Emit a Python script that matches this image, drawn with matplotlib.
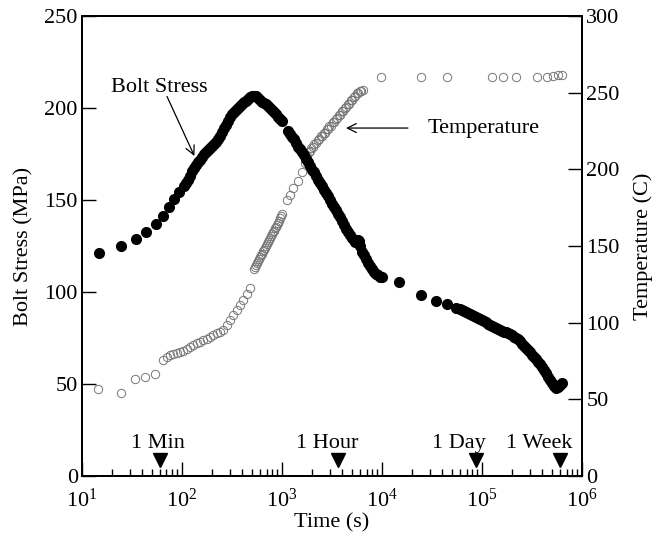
import matplotlib
matplotlib.use("Agg")
import matplotlib.pyplot as plt
import numpy as np
from matplotlib.ticker import LogLocator, FixedLocator, NullFormatter

plt.rcParams['font.family'] = ['Liberation Serif', 'DejaVu Serif']
plt.rcParams['mathtext.fontset'] = 'custom'
plt.rcParams['mathtext.rm'] = 'Liberation Serif'
plt.rcParams['mathtext.it'] = 'Liberation Serif:italic'
plt.rcParams['mathtext.bf'] = 'Liberation Serif:bold'

# ---------------- data ----------------
stress_time = [
    14.8, 24.4, 34.4, 44, 54.5, 65, 73.6, 83.8, 94, 105,
    110, 115, 120, 126, 132, 138, 145, 151, 158, 166, 174, 182, 191, 200,
    209, 219, 229, 240, 251, 263, 275, 288, 302, 316, 331, 347, 363, 380,
    398, 417, 437, 457, 479, 501, 525, 550,
    575, 603, 631, 661, 692, 724, 759, 794, 832, 871, 912, 955, 1000,
    1148, 1202, 1259, 1318, 1380, 1445, 1514, 1585, 1660, 1738, 1820, 1905,
    1995, 2089, 2188, 2291, 2399, 2512, 2630, 2754, 2884, 3020, 3162, 3311,
    3467, 3631, 3802, 3981, 4169, 4365, 4571, 4786, 5012, 5248, 5370, 5623,
    5754, 5888, 6026, 6310, 6607, 6918, 7244, 7586, 7943, 8318, 8710, 9120,
    9550, 10000,
    14700, 24500, 34700, 45000, 55000,
    60260, 63100, 66070, 69180, 72440, 75860, 79430, 83180, 87100, 91200,
    95500, 100000, 104700, 109600, 114800, 120200, 125900, 131800, 138000,
    144500, 151400, 158500, 166000, 173800, 182000, 190500, 199500, 208900,
    218800, 229100, 239900, 251200, 263000, 275400, 288400, 302000, 316200,
    331100, 346700, 363100, 380200, 398100, 416900, 436500, 457100, 478600,
    501200, 524800, 549500, 575400, 602600, 631000,
]
stress_mpa = [
    121, 125.2, 129, 132.8, 137.1, 141.3, 146.2, 150.4, 154.5, 157.6,
    159, 161, 163, 165.5, 167.5, 169, 170.5, 172, 173.5, 175, 176, 177, 178.5, 179.5,
    180.5, 181.5, 183, 185, 187, 189, 191, 193, 195, 196.5, 198, 199, 200, 201,
    202, 203, 204, 205, 205.8, 206.3, 206.5, 206.3,
    205.5, 204.5, 203.5, 202.8, 202, 201, 200, 199, 198, 196.5, 195, 194, 193,
    187.5, 186, 184.5, 183, 181, 179, 177.5, 176, 174.5, 172.5, 170.5, 168.5,
    166.5, 165, 163, 161, 159.5, 157.5, 155.5, 154, 152, 150, 148, 146,
    144.5, 142.5, 140.5, 138.5, 136.5, 134.5, 132.5, 131, 129.5, 128, 127.3, 127.8,
    128.3, 127.5, 125, 122, 120, 118, 116, 114, 112.5, 111, 110, 109,
    108.3, 108,
    105.3, 98.4, 95.3, 93.5, 91.3,
    90.5, 90, 89.4, 88.9, 88.4, 87.9, 87.4, 86.8, 86.3, 85.9,
    85.5, 85, 84.2, 83.5, 82.8, 82.2, 81.7, 81.2, 80.6,
    80, 79.4, 78.9, 78.5, 78.2, 77.7, 77, 76.4, 75.8,
    75.2, 74.4, 73.2, 72, 70.8, 69.7, 68.5, 67.2, 66,
    64.8, 63.5, 62.2, 60.8, 59.3, 57.6, 55.8, 54, 52.2,
    50.6, 48.8, 48, 48.3, 49.3, 50.3,
]

temp_time = [
    14.6, 24.4, 33.9, 42.7, 53.7, 65,
    70.8, 75.9, 81.3, 88.5, 95.5, 103, 112, 120, 129, 140, 151, 163, 178, 191,
    204, 222, 240, 259, 282, 302, 324, 352, 380, 410, 447, 479,
    525, 537, 550, 562, 575, 589, 603, 617, 631, 646, 661, 676, 692, 708, 724,
    741, 759, 776, 794, 813, 832, 851, 871, 891, 912, 933, 955, 977, 1000,
    1114, 1202, 1297, 1455, 1574, 1679,
    1778, 1841, 1905, 1972, 2042, 2113, 2188, 2265, 2344, 2427, 2512, 2600,
    2692, 2786, 2884, 2985, 3090, 3199, 3311, 3428, 3548, 3673, 3802, 3936,
    4074, 4217, 4365, 4519, 4677, 4842, 5012, 5188, 5370, 5559, 5754, 5957,
    6166, 6383,
    9770, 24500, 44700, 126000, 162000, 219000, 355000, 447000, 513000,
    575000, 631000,
]
temp_c = [
    56.7, 53.9, 63.2, 64.8, 66.3, 75.7,
    77.5, 78.9, 79.5, 80, 81, 81.7, 83, 84.3, 85.5, 86.5, 87.5, 88.7, 89.5, 90.8,
    92, 93, 94, 95.2, 98.5, 101.7, 105, 108.3, 111.5, 114.8, 118.5, 122.4,
    135, 136.5, 137.5, 139, 140, 141.5, 142.5, 144, 145, 146.5, 147.5, 149, 150,
    151.5, 152.5, 154, 155, 156.5, 157.5, 159, 160, 161.5, 162.5, 164, 165,
    166.5, 168, 169.5, 171,
    180, 183.5, 187.5, 192.5, 198, 204,
    209, 211, 212, 214, 214.5, 216.5, 217, 219, 219.5, 221.5, 221.5, 224,
    224, 226.5, 226.5, 228.5, 228.5, 231, 231, 233, 233.5, 235.5, 235.5, 238,
    238, 240, 240.5, 242.5, 242.5, 245, 245, 247, 247.5, 249.5, 249.5, 251,
    251, 252,
    260, 260, 260, 260.5, 260.5, 260, 260.5, 260.5, 261, 261.5, 261.5,
]

marker_time = [60, 3600, 86400, 604800]
marker_labels = ['1 Min', '1 Hour', '1 Day', '1 Week']
marker_label_time = [57, 2800, 59000, 371000]

# ---------------- figure ----------------
fig = plt.figure(figsize=(6.59, 5.35), dpi=100)
ax = fig.add_axes([0.1244, 0.1103, 0.7588, 0.8598])
ax2 = ax.twinx()
ax.set_zorder(ax2.get_zorder() + 1)
ax.patch.set_visible(False)

FS = 16

ax2.plot(temp_time, temp_c, linestyle='none', marker='o', markersize=6.0,
         markerfacecolor='none', markeredgecolor='#777777', markeredgewidth=0.7)
ax.plot(stress_time, stress_mpa, linestyle='none', marker='o', markersize=7.0,
        markerfacecolor='black', markeredgecolor='black')

ax.plot(marker_time, [8.7] * len(marker_time), linestyle='none', marker='v',
        markersize=9.5, color='black')
for lx, lab in zip(marker_label_time, marker_labels):
    ax.text(lx, 12.5, lab, ha='center', va='bottom', fontsize=FS)

ax.set_xscale('log')
ax.set_xlim(10, 1e6)
ax.set_ylim(0, 250)
ax2.set_ylim(0, 300)

ax.xaxis.set_major_locator(FixedLocator([1e1, 1e2, 1e3, 1e4, 1e5, 1e6]))
ax.set_xticklabels([r'$\mathregular{10^{%d}}$' % k for k in range(1, 7)])
ax.xaxis.set_minor_locator(LogLocator(base=10, subs=np.arange(2, 10)))
ax.xaxis.set_minor_formatter(NullFormatter())
ax.set_yticks([0, 50, 100, 150, 200, 250])
ax2.set_yticks([0, 50, 100, 150, 200, 250, 300])

ax.tick_params(axis='x', which='major', direction='in', length=10, width=1.0,
               labelsize=FS, pad=9, top=False)
ax.tick_params(axis='x', which='minor', direction='in', length=5, width=1.0, top=False)
ax.tick_params(axis='y', which='major', direction='in', length=10, width=1.0,
               labelsize=FS, pad=3, right=False)
ax2.tick_params(axis='y', which='major', direction='in', length=10, width=1.0,
                labelsize=FS, pad=3, left=False)
ax2.tick_params(axis='x', which='both', top=False, bottom=False)

for a in (ax, ax2):
    for s in a.spines.values():
        s.set_linewidth(1.4)

ax.set_xlabel('Time (s)', fontsize=FS, labelpad=1)
ax.set_ylabel('Bolt Stress (MPa)', fontsize=FS, labelpad=8)
ax2.set_ylabel('Temperature (C)', fontsize=FS, labelpad=10)

ax.annotate('Bolt Stress', xy=(133, 173.9), xytext=(19.5, 211.4),
            fontsize=FS, ha='left', va='center',
            arrowprops=dict(arrowstyle='->', color='black', lw=0.9,
                            shrinkA=0, shrinkB=0,
                            patchA=None, relpos=(0.58, 0.0)))
ax.annotate('Temperature', xy=(4365, 189.1), xytext=(28400, 189.1),
            fontsize=FS, ha='left', va='center',
            arrowprops=dict(arrowstyle='->', color='black', lw=0.9,
                            shrinkA=12, shrinkB=0, relpos=(0.0, 0.5)))

fig.savefig('out.png', dpi=100)
